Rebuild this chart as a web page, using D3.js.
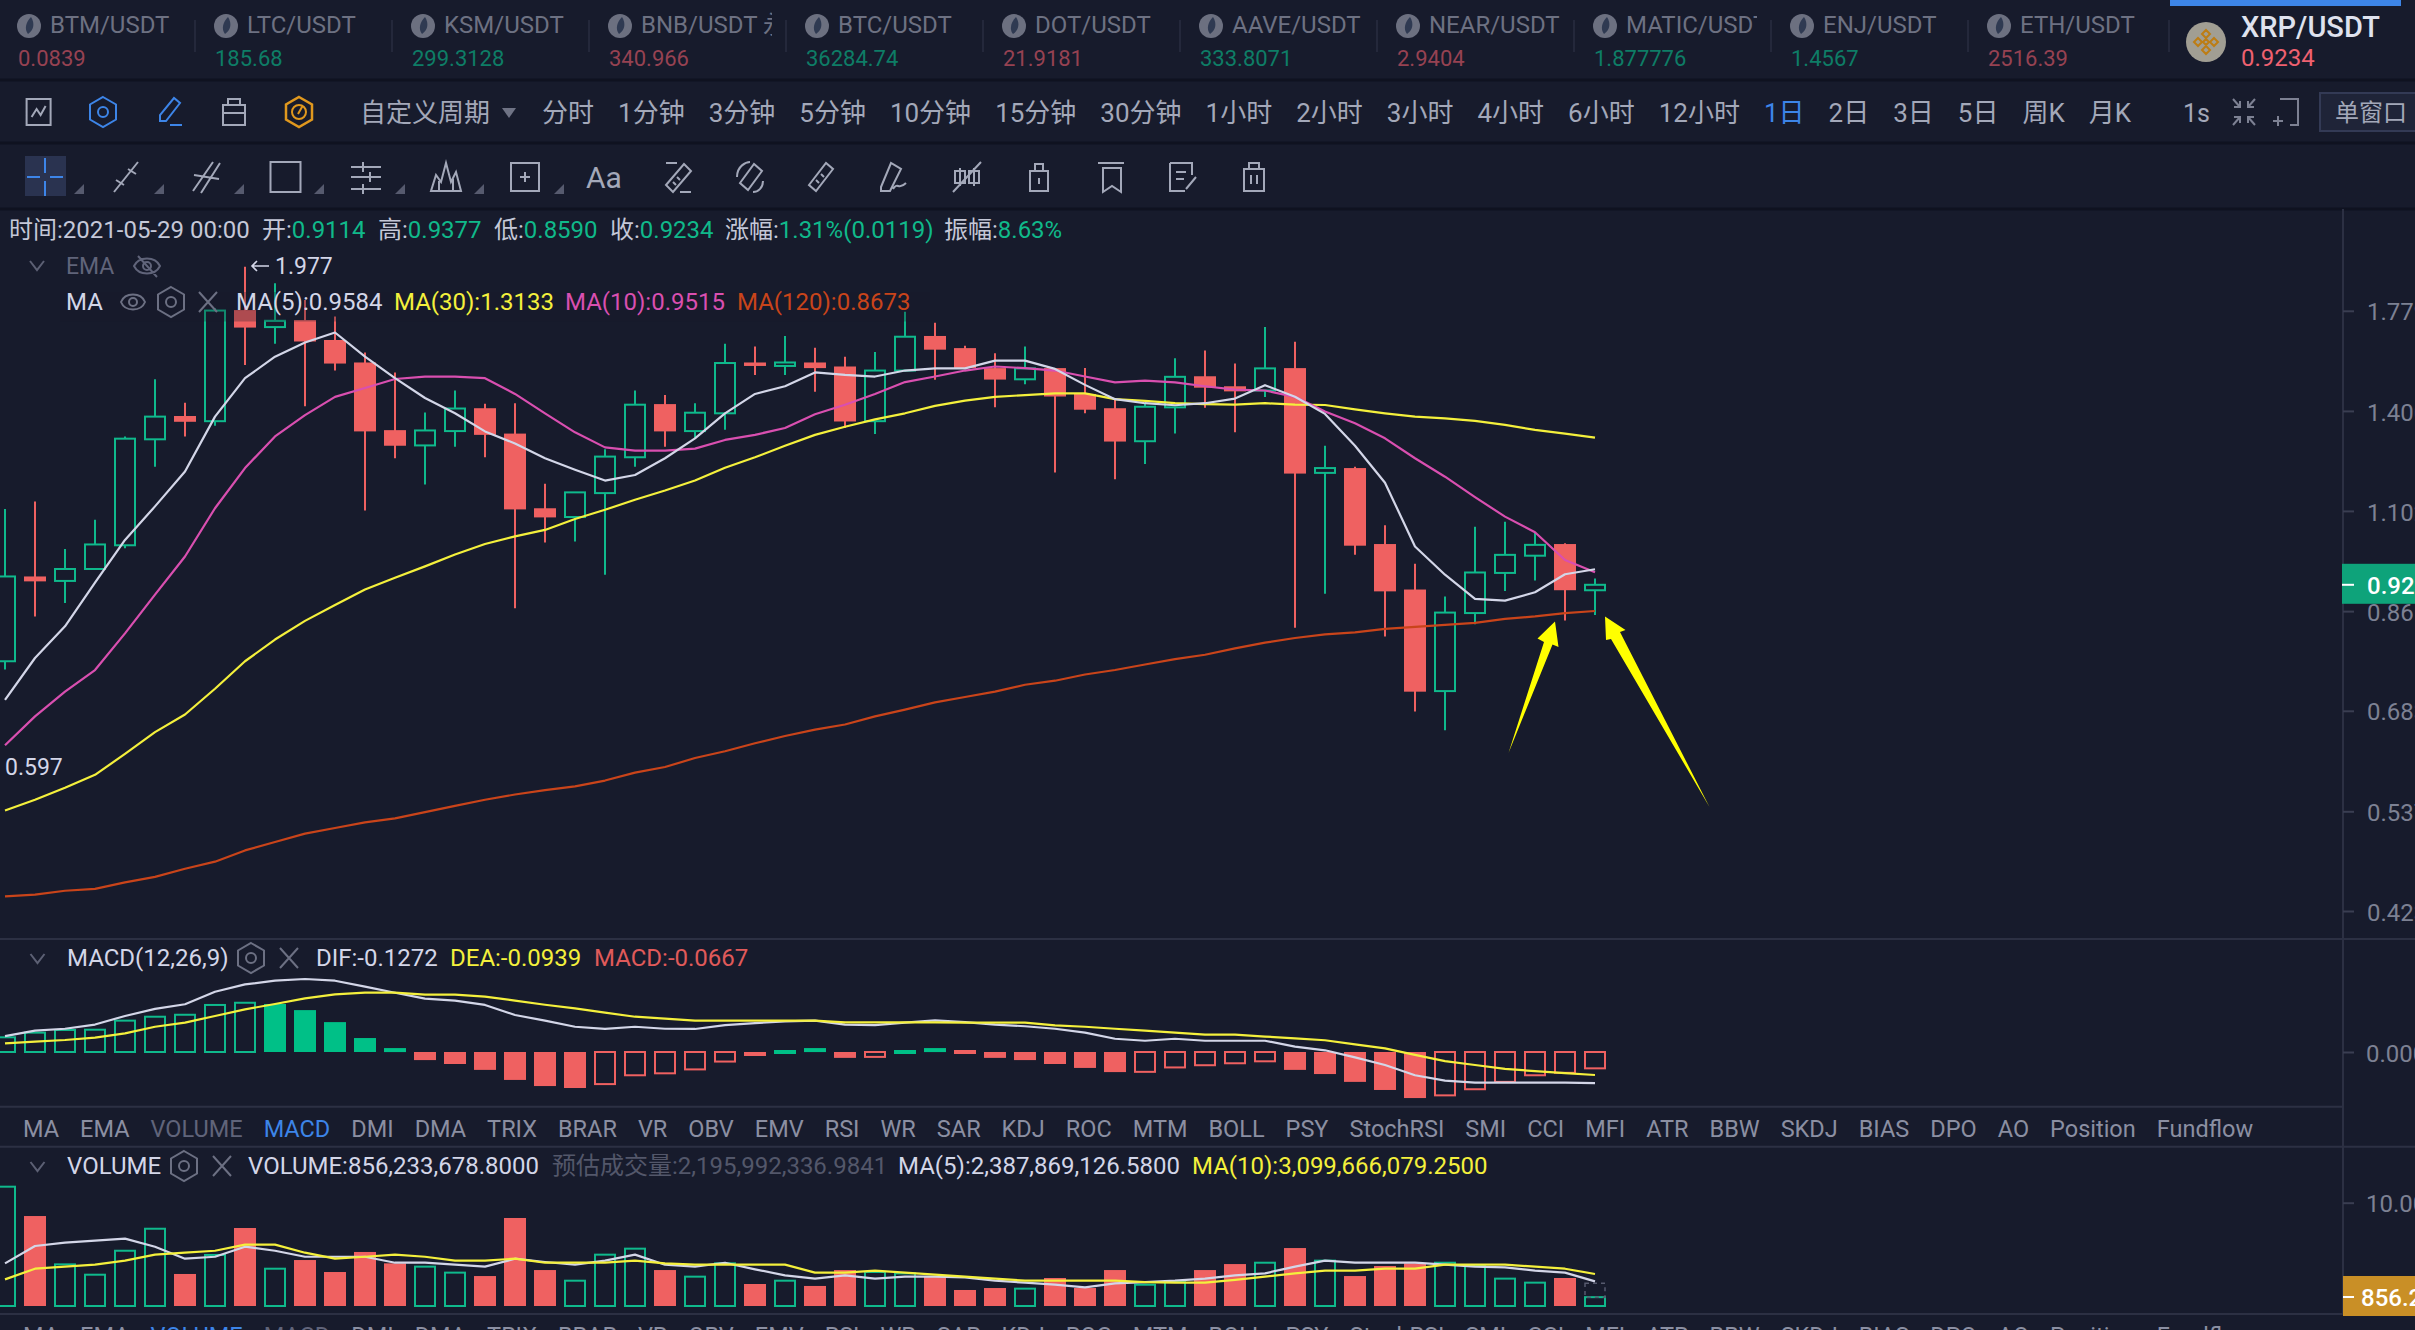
<!DOCTYPE html>
<html>
<head>
<meta charset="utf-8">
<title>XRP/USDT</title>
<script src="https://d3js.org/d3.v7.min.js"></script>
<style>
  html, body { margin: 0; background: #171b2c; overflow: hidden; }
  svg { display: block; }
  text { font-family: Roboto, "Noto Sans CJK SC", sans-serif; }
</style>
</head>
<body>
<svg id="chart" width="2415" height="1330"></svg>
<script>
// ---- data ----
const tickerNames = ["BTM/USDT","LTC/USDT","KSM/USDT","BNB/USDT 永续","BTC/USDT","DOT/USDT","AAVE/USDT","NEAR/USDT","MATIC/USDT","ENJ/USDT","ETH/USDT"];
const tickerPrices = ["0.0839","185.68","299.3128","340.966","36284.74","21.9181","333.8071","2.9404","1.877776","1.4567","2516.39"];
const tickerUp = [false,true,true,false,true,false,true,false,true,true,false];

const periods = ["分时","1分钟","3分钟","5分钟","10分钟","15分钟","30分钟","1小时","2小时","3小时","4小时","6小时","12小时","1日","2日","3日","5日","周K","月K"];
const indicators = ["MA","EMA","VOLUME","MACD","DMI","DMA","TRIX","BRAR","VR","OBV","EMV","RSI","WR","SAR","KDJ","ROC","MTM","BOLL","PSY","StochRSI","SMI","CCI","MFI","ATR","BBW","SKDJ","BIAS","DPO","AO","Position","Fundflow"];

const openPx = [.769,.942,.932,.959,1.015,1.308,1.383,1.366,1.782,1.711,
  1.740,1.659,1.572,1.337,1.289,1.334,1.409,1.326,1.109,1.086,
  1.150,1.253,1.423,1.334,1.392,1.572,1.559,1.572,1.557,1.366,
  1.542,1.675,1.627,1.551,1.510,1.551,1.458,1.409,1.302,1.412,
  1.521,1.485,1.470,1.551,1.207,1.221,1.018,.913,.716,.863,
  .950,.990,1.018,.9114];
const highPx = [1.107,1.127,1.006,1.079,1.317,1.510,1.428,1.790,1.977,1.900,
  1.826,1.755,1.610,1.535,1.395,1.470,1.424,1.426,1.176,1.152,
  1.277,1.470,1.454,1.426,1.644,1.633,1.675,1.628,1.594,1.612,
  1.775,1.729,1.636,1.607,1.633,1.551,1.551,1.444,1.426,1.588,
  1.618,1.568,1.711,1.652,1.288,1.225,1.065,.971,.898,1.061,
  1.074,1.047,1.020,.9377];
const lowPx = [.754,.856,.884,.957,1.008,1.225,1.317,1.351,1.563,1.644,
  1.416,1.542,1.103,1.250,1.174,1.285,1.253,.873,1.022,1.024,
  .946,1.225,1.285,1.311,1.338,1.526,1.526,1.466,1.344,1.325,
  1.539,1.508,1.548,1.412,1.492,1.208,1.392,1.189,1.233,1.326,
  1.411,1.330,1.447,.833,.904,.992,.816,.682,.652,.840,
  .910,.933,.848,.8590];
const closePx = [.942,.931,.959,1.017,1.310,1.381,1.364,1.780,1.709,1.737,
  1.653,1.568,1.333,1.288,1.336,1.408,1.322,1.106,1.085,1.152,
  1.255,1.421,1.333,1.394,1.570,1.559,1.572,1.551,1.365,1.542,
  1.672,1.621,1.551,1.509,1.550,1.449,1.404,1.301,1.414,1.519,
  1.480,1.467,1.550,1.205,1.221,1.014,.909,.715,.864,.951,
  .992,1.016,.9115,.9234];

const ma5 = [.701,.775,.836,.928,1.028,1.114,1.211,1.381,1.514,1.594,
  1.649,1.689,1.594,1.514,1.444,1.392,1.333,1.295,1.250,1.216,
  1.185,1.201,1.250,1.311,1.392,1.458,1.485,1.535,1.526,1.520,
  1.542,1.550,1.550,1.579,1.579,1.548,1.490,1.440,1.426,1.419,
  1.426,1.442,1.489,1.448,1.390,1.288,1.179,1.012,.946,.893,
  .889,.907,.947,.9584];
const ma10 = [.629,.674,.715,.753,.822,.902,.988,1.109,1.221,1.317,
  1.386,1.448,1.479,1.511,1.520,1.520,1.514,1.458,1.392,1.330,
  1.283,1.273,1.273,1.279,1.306,1.322,1.344,1.389,1.421,1.458,
  1.500,1.520,1.542,1.557,1.551,1.542,1.520,1.499,1.505,1.499,
  1.485,1.473,1.470,1.448,1.398,1.359,1.311,1.250,1.196,1.139,
  1.087,1.047,.980,.9515];
const ma30 = [.538,.552,.568,.586,.616,.649,.677,.720,.769,.810,
  .847,.880,.913,.939,.965,.993,1.018,1.037,1.053,1.081,
  1.105,1.132,1.157,1.185,1.222,1.253,1.288,1.322,1.348,1.372,
  1.392,1.417,1.435,1.448,1.454,1.460,1.460,1.440,1.434,1.426,
  1.423,1.421,1.426,1.421,1.420,1.405,1.392,1.381,1.375,1.367,
  1.354,1.338,1.326,1.3133];
const ma120 = [.438,.440,.444,.446,.453,.459,.468,.476,.489,.499,
  .509,.516,.523,.528,.536,.544,.552,.559,.565,.570,
  .578,.589,.597,.610,.620,.632,.643,.653,.661,.674,
  .685,.697,.706,.715,.727,.734,.745,.753,.763,.773,
  .781,.793,.804,.813,.820,.824,.831,.835,.839,.843,
  .851,.856,.863,.8673];

const macd = [.060,.079,.090,.091,.128,.144,.152,.192,.201,.196,
  .171,.122,.057,.016,-.033,-.049,-.073,-.114,-.139,-.147,
  -.131,-.095,-.087,-.071,-.039,-.016,.004,.016,-.024,-.020,
  .004,.016,-.008,-.024,-.033,-.049,-.065,-.082,-.081,-.063,
  -.054,-.046,-.038,-.073,-.090,-.122,-.155,-.188,-.177,-.152,
  -.122,-.095,-.085,-.0667];
const dif = [.065,.087,.095,.112,.147,.176,.195,.246,.276,.291,
  .298,.291,.267,.242,.218,.210,.192,.151,.128,.103,
  .094,.103,.095,.094,.110,.118,.125,.128,.112,.110,
  .120,.129,.122,.112,.105,.095,.079,.054,.046,.054,
  .046,.046,.046,.022,.007,-.022,-.053,-.095,-.117,-.125,
  -.125,-.125,-.125,-.1272];
const dea = [.035,.042,.049,.059,.076,.103,.120,.147,.174,.196,
  .219,.235,.242,.242,.234,.234,.226,.210,.193,.178,
  .161,.144,.136,.128,.128,.128,.128,.128,.121,.121,
  .121,.121,.120,.120,.120,.109,.103,.095,.087,.079,
  .071,.071,.063,.056,.048,.031,.015,-.012,-.037,-.053,
  -.069,-.078,-.086,-.0939];

// volume in billions
const volume = [11.55,8.71,4.03,3.03,5.35,7.48,3.10,4.94,7.55,3.61,
  4.45,3.29,5.23,4.13,3.81,3.23,2.90,8.52,3.48,2.45,
  4.97,5.55,3.48,2.84,4.13,2.13,2.45,1.94,3.48,3.29,
  3.16,2.90,1.55,1.74,1.68,2.71,1.74,3.48,2.06,2.32,
  3.48,4.06,4.19,5.61,4.39,2.90,3.87,4.13,4.19,3.94,
  2.65,2.26,2.71,.856];
const volMa5 = [4.13,5.81,6.13,6.32,6.52,5.74,4.58,4.77,5.74,5.35,
  4.77,4.77,4.77,4.19,4.19,4.00,3.81,4.58,4.26,4.00,
  4.39,4.97,4.00,3.81,4.19,3.55,2.97,2.65,2.97,2.65,
  2.84,2.84,2.77,2.45,2.26,2.06,1.81,2.19,2.32,2.45,
  2.65,2.97,3.16,3.81,4.39,4.19,4.19,4.19,4.00,3.81,
  3.74,3.42,3.23,2.388];
const volMa10 = [2.58,3.61,3.81,4.00,4.39,4.97,5.16,5.35,5.94,5.94,
  5.16,4.58,4.77,4.97,4.77,4.39,4.39,4.58,4.19,4.19,
  4.19,4.39,4.13,4.00,4.00,4.00,4.00,3.23,3.23,3.42,
  3.23,3.03,2.84,2.65,2.45,2.45,2.45,2.45,2.32,2.26,
  2.26,2.52,2.84,3.16,3.42,3.42,3.61,3.61,4.00,4.00,
  4.00,3.81,3.61,3.10];
const estimatedVolume = 2.196;

const priceTicks = [1.779,1.400,1.102,.867,.683,.537,.423];
const priceTickLabels = ["1.779","1.400","1.102","0.86","0.683","0.537","0.423"];

// ---- colours ----
const bg = "#171b2c", upColor = "#0fb98c", downColor = "#ef6161";
const ruleColor = "#2c3043", labelColor = "#a3a8b9", dimColor = "#60647a", axisText = "#7d8193";
const white = "#d3d6e8", yellow = "#f4f03c", magenta = "#d94fb0", orange = "#c9441a", blue = "#3d85e8";

const svg = d3.select("#chart");
const width = 2415, axisX = 2343;

function label(g, x, y, str, fill, size, extra) {
  const t = g.append("text").attr("x", x).attr("y", y).attr("fill", fill).attr("font-size", size).text(str);
  if (extra) t.attr("font-weight", extra);
  return t;
}

// text made of differently coloured runs
function rich(g, x, y, size, parts) {
  const t = g.append("text").attr("x", x).attr("y", y).attr("font-size", size);
  parts.forEach(p => t.append("tspan").attr("fill", p[1]).text(p[0]));
  return t;
}

// row of labels, each starting a fixed gap after the previous one
function flow(g, items, startX, y, gap, size, colorOf) {
  let x = startX;
  items.forEach(d => {
    const t = label(g, x, y, d, colorOf(d), size);
    x += t.node().getComputedTextLength() + gap;
  });
}

function icon(g, x, y, d, color, w) {
  g.append("path").attr("transform", `translate(${x},${y})`).attr("d", d)
    .attr("fill", "none").attr("stroke", color).attr("stroke-width", w || 2);
}

const hexPath = "M0,-15L13,-7.5V7.5L0,15L-13,7.5V-7.5Z";
const ringPath = "M5,0a5,5 0 1,0 -10,0a5,5 0 1,0 10,0Z";
const crossPath = "M-9,-10L9,10M9,-10L-9,10";
const chevron = "M-7,-4L0,5L7,-4";

// ---- ticker strip ----
const strip = svg.append("g");
svg.append("defs").selectAll("clipPath").data(tickerNames).enter().append("clipPath")
  .attr("id", (d, i) => "tick" + i)
  .append("rect").attr("x", (d, i) => 18 + 197 * i - 2).attr("y", 0).attr("width", 165).attr("height", 80);

tickerNames.forEach((name, i) => {
  const x = 18 + 197 * i;
  const g = strip.append("g").attr("clip-path", `url(#tick${i})`);
  g.append("circle").attr("cx", x + 11).attr("cy", 26).attr("r", 12).attr("fill", "#6c7080");
  g.append("path").attr("transform", `translate(${x + 11},26)`).attr("d", "M2,-9C6,-3 5,4 -1,8C-5,3 -3,-4 2,-9Z").attr("fill", "#2f3a52");
  label(g, x + 32, 33, name, "#6d7182", 24);
  label(g, x, 66, tickerPrices[i], tickerUp[i] ? "#0e7d66" : "#964252", 22);
  if (i) strip.append("line").attr("x1", x - 20).attr("x2", x - 20).attr("y1", 20).attr("y2", 52).attr("stroke", "#2a2e40").attr("stroke-width", 1.5);
});
strip.append("line").attr("x1", 2169).attr("x2", 2169).attr("y1", 20).attr("y2", 52).attr("stroke", "#2a2e40").attr("stroke-width", 1.5);
strip.append("rect").attr("x", 2170).attr("y", 0).attr("width", 231).attr("height", 6).attr("fill", blue);
strip.append("circle").attr("cx", 2206).attr("cy", 42).attr("r", 20).attr("fill", "#a19e93");
icon(strip, 2206, 42, "M0,-12L4,-8L0,-4L-4,-8ZM-8,-4L-4,0L-8,4L-12,0ZM8,-4L12,0L8,4L4,0ZM0,-3L3,0L0,3L-3,0ZM0,4L4,8L0,12L-4,8Z", "#bd7d14", 2);
label(strip, 2241, 37, "XRP/USDT", "#dfe2ee", 29, 500);
label(strip, 2241, 66, "0.9234", "#ef6170", 24);

// dark separators between the toolbars
[80, 143, 209].forEach(y => svg.append("line").attr("x1", 0).attr("x2", width).attr("y1", y).attr("y2", y).attr("stroke", "#0f1220").attr("stroke-width", 3));

// ---- period toolbar ----
const bar = svg.append("g");
icon(bar, 38.6, 112, "M-12,-13H12V13H-12ZM-7,5L-2,-3L2,3L7,-6", labelColor);
icon(bar, 103, 112, hexPath, blue);
icon(bar, 103, 112, ringPath, blue);
icon(bar, 170, 112, "M-10,9L-10,3L4,-14L10,-9L-4,9ZM0,13H12", blue);
icon(bar, 234, 112, "M-11,-7H11V13H-11ZM-6,-7V-13H6V-7M-11,1H11", labelColor);
icon(bar, 299, 112, hexPath, "#e0981e", 2.5);
icon(bar, 299, 112, "M7,0a7,7 0 1,0 -14,0a7,7 0 1,0 14,0ZM-1,2L3,-5", "#e0981e");
label(bar, 360, 122, "自定义周期", labelColor, 26);
bar.append("path").attr("d", "M502,108H516L509,118Z").attr("fill", "#6f7385");
flow(bar, periods, 542, 122, 24, 26, d => d === "1日" ? blue : labelColor);
label(bar, 2183, 122, "1s", labelColor, 25);
icon(bar, 2244, 112, "M-11,-13L-4,-5M-4,-11V-5H-10M11,-13L4,-5M4,-11V-5H10M-11,13L-4,5M-4,11V5H-10M11,13L4,5M4,11V5H10", "#7d8193");
icon(bar, 2288, 112, "M-8,-13H10V13H2M-10,4V14M-15,9H-5", "#7d8193");
bar.append("rect").attr("x", 2320).attr("y", 93).attr("width", 110).attr("height", 38).attr("fill", "#1f2438").attr("stroke", "#333a55").attr("stroke-width", 2);
label(bar, 2335, 121, "单窗口", labelColor, 24);

// ---- drawing tools ----
const tools = svg.append("g");
tools.append("rect").attr("x", 25).attr("y", 156).attr("width", 41).attr("height", 40).attr("fill", "#2a3350");
icon(tools, 45, 177, "M0,-19V-4M0,4V19M-18,0H-5M5,0H18", blue);
const toolIcons = [
  [126, "M-12,15L12,-15M-10,3L-2,8M2,-8L10,-3", labelColor],
  [206, "M-13,14L7,-15M-5,16L14,-14M-12,-2L13,2", labelColor],
  [285.5, "M-15,-15H15V15H-15Z", labelColor],
  [366, "M-15,-10H15M-15,0H15M-15,12H15M-3,-15V-5M4,-5V5M-3,7V17", labelColor],
  [446, "M-15,14H15L10,-5L5,5L0,-14L-5,5L-10,-2ZM-7,14V4M7,14V2", labelColor],
  [525, "M-14,-14H14V14H-14ZM-5,0H5M0,-5V5", labelColor],
  [678, "M-12,8L6,-13L13,-6L-5,15ZM-1,-14H-12M13,15H2M-5,5L-2,8M-1,0L2,3", labelColor],
  [750, "M-10,6L4,-13L12,-6L-2,13ZM-13,0C-13,-11 -4,-15 0,-15M13,4C13,11 8,15 3,15", labelColor],
  [821, "M-12,8L5,-14L12,-8L-5,14ZM-5,3L-2,6M0,-3L3,0", labelColor],
  [893, "M-12,10L-2,-14L8,-8L-3,14L-12,14ZM0,12C5,4 5,14 13,6", labelColor],
  [967, "M-7,-9V9M7,-9V9M-12,-6H-2V6H-12ZM2,-6H12V6H2ZM-14,15L14,-15", labelColor],
  [1039, "M-9,-6H9V14H-9ZM-4,-6V-13H4V-6M0,1V7", labelColor],
  [1111, "M-13,-14H13M-8,-9H10V15L1,9L-8,15Z", labelColor],
  [1183, "M-13,-14H9V-2M-13,-14V14H2M-7,-5H3M-7,2H1M3,12L13,0", labelColor],
  [1254, "M-10,-8H10V14H-10ZM-5,-8V-14H5V-8M-3,-2V7M3,-2V7", labelColor]
];
toolIcons.forEach(d => icon(tools, d[0], 177, d[1], d[2]));
[79, 159, 239, 319, 400, 479, 559].forEach(x => tools.append("path").attr("d", `M${x + 5},184V194H${x - 5}Z`).attr("fill", "#565a6e"));
label(tools, 586, 188, "Aa", labelColor, 30);

// ---- scales ----
const x = d3.scaleLinear().domain([0, 53]).range([5, 1595]);
const y = d3.scaleLog().domain([.423, 1.779]).range([911, 310.8]);
const macdY = d3.scaleLinear().domain([-.2, .3]).range([1101, 978.5]);
const volY = d3.scaleLinear().domain([0, 10]).range([1306, 1202.7]);
const lineOf = (scale, values) => d3.line().x((d, i) => x(i)).y(d => scale(d))(values);

function drawLine(g, scale, values, color) {
  g.append("path").attr("d", lineOf(scale, values)).attr("fill", "none").attr("stroke", color)
    .attr("stroke-width", 2.2).attr("stroke-linejoin", "round");
}

// ---- candles ----
const main = svg.append("g");
const idx = d3.range(openPx.length);
const up = i => closePx[i] >= openPx[i];

main.selectAll("line.wick").data(idx).enter().append("line").attr("class", "wick")
  .attr("x1", i => x(i)).attr("x2", i => x(i))
  .attr("y1", i => y(highPx[i])).attr("y2", i => y(lowPx[i]))
  .attr("stroke", i => up(i) ? upColor : downColor).attr("stroke-width", 2);

// hollow up bodies have to mask the wick behind them
main.selectAll("rect.body").data(idx).enter().append("rect").attr("class", "body")
  .attr("x", i => x(i) - (up(i) ? 10 : 11))
  .attr("width", i => up(i) ? 20 : 22)
  .attr("y", i => y(Math.max(openPx[i], closePx[i])))
  .attr("height", i => Math.max(3, Math.abs(y(openPx[i]) - y(closePx[i]))))
  .attr("fill", i => up(i) ? bg : downColor)
  .attr("stroke", i => up(i) ? upColor : "none")
  .attr("stroke-width", 2);

drawLine(main, y, ma120, orange);
drawLine(main, y, ma30, yellow);
drawLine(main, y, ma10, magenta);
drawLine(main, y, ma5, white);

// arrows drawn by hand on the screenshot, so plain page coordinates
svg.append("path").attr("fill", "#ffff00")
  .attr("d", "M1508.5,753L1544,642L1537.5,638.5L1555,621.5L1558.5,647L1552.5,644.5Z");
svg.append("path").attr("fill", "#ffff00")
  .attr("d", "M1709.5,807L1611,639L1606,640L1605,616.5L1625.5,630L1620,632Z");

// the legend row has a translucent backing that dulls what sits under it
svg.append("rect").attr("x", 60).attr("y", 292).attr("width", 870).attr("height", 29.5).attr("fill", bg).attr("opacity", .3);

// ---- main legend ----
const info = svg.append("g");
const up2 = "#10b98a", txt = "#c5c8d8";
rich(info, 9, 238, 24, [["时间:2021-05-29 00:00", txt]]);
rich(info, 262, 238, 24, [["开:", txt], ["0.9114", up2]]);
rich(info, 378, 238, 24, [["高:", txt], ["0.9377", up2]]);
rich(info, 494, 238, 24, [["低:", txt], ["0.8590", up2]]);
rich(info, 610, 238, 24, [["收:", txt], ["0.9234", up2]]);
rich(info, 725, 238, 24, [["涨幅:", txt], ["1.31%(0.0119)", up2]]);
rich(info, 944, 238, 24, [["振幅:", txt], ["8.63%", up2]]);

icon(info, 37, 265, chevron, "#5c6074");
label(info, 66, 274, "EMA", dimColor, 23);
icon(info, 147, 266, "M-13,0C-8,-10 8,-10 13,0C8,10 -8,10 -13,0ZM-9,-10L10,11M4,0a4,4 0 1,0 -8,0a4,4 0 1,0 8,0Z", dimColor);
label(info, 275, 274, "1.977", white, 23);
icon(info, 259, 266, "M10,0H-7M-2,-5L-7,0L-2,5", white, 1.6);
label(info, 5, 775, "0.597", white, 23);

label(info, 66, 310, "MA", white, 24);
icon(info, 133, 302, "M12,0C8,-10 -8,-10 -12,0C-8,10 8,10 12,0ZM4,0a4,4 0 1,0 -8,0a4,4 0 1,0 8,0Z", "#6c7083");
icon(info, 171, 302, hexPath, "#6c7083");
icon(info, 171, 302, ringPath, "#6c7083");
icon(info, 208, 302, crossPath, "#6c7083");
label(info, 236, 310, "MA(5):0.9584", white, 24);
label(info, 394, 310, "MA(30):1.3133", yellow, 24);
label(info, 565, 310, "MA(10):0.9515", magenta, 24);
label(info, 737, 310, "MA(120):0.8673", orange, 24);

// ---- MACD pane ----
const macdPane = svg.append("g");
const zero = macdY(0);
// rising bars are outlined, except the tiny ones that are only a dash
const macdHollow = i => (i === 0 || macd[i] >= macd[i - 1]) && Math.abs(macd[i]) >= .018;
macdPane.selectAll("rect").data(idx).enter().append("rect")
  .attr("x", i => x(i) - (macdHollow(i) ? 10 : 11))
  .attr("width", i => macdHollow(i) ? 20 : 22)
  .attr("y", i => Math.abs(macd[i]) < .01 ? zero - 2 : Math.min(zero, macdY(macd[i])))
  .attr("height", i => Math.max(4, Math.abs(macdY(macd[i]) - zero)))
  .attr("fill", i => macdHollow(i) ? "none" : (macd[i] >= 0 ? "#00c087" : downColor))
  .attr("stroke", i => macdHollow(i) ? (macd[i] >= 0 ? upColor : downColor) : "none")
  .attr("stroke-width", 2);
drawLine(macdPane, macdY, dif, white);
drawLine(macdPane, macdY, dea, yellow);

icon(macdPane, 37.5, 958, chevron, "#5c6074");
label(macdPane, 67, 966, "MACD(12,26,9)", white, 24);
icon(macdPane, 251, 958, hexPath, "#6c7083");
icon(macdPane, 251, 958, ringPath, "#6c7083");
icon(macdPane, 289, 958, crossPath, "#6c7083");
label(macdPane, 316, 966, "DIF:-0.1272", white, 24);
label(macdPane, 450, 966, "DEA:-0.0939", yellow, 24);
label(macdPane, 594, 966, "MACD:-0.0667", "#e05a5a", 24);

// ---- volume pane ----
const volPane = svg.append("g");
volPane.selectAll("rect").data(idx).enter().append("rect")
  .attr("x", i => x(i) - (up(i) ? 10 : 11))
  .attr("width", i => up(i) ? 20 : 22)
  .attr("y", i => volY(volume[i]))
  .attr("height", i => volY(0) - volY(volume[i]))
  .attr("fill", i => up(i) ? "none" : downColor)
  .attr("stroke", i => up(i) ? upColor : "none")
  .attr("stroke-width", 2);
volPane.append("rect").attr("x", x(53) - 10).attr("width", 20)
  .attr("y", volY(estimatedVolume)).attr("height", volY(volume[53]) - volY(estimatedVolume))
  .attr("fill", "none").attr("stroke", "#565a6e").attr("stroke-width", 1.5).attr("stroke-dasharray", "4 4");
drawLine(volPane, volY, volMa5, white);
drawLine(volPane, volY, volMa10, yellow);

icon(volPane, 37.5, 1166, chevron, "#5c6074");
label(volPane, 67, 1174, "VOLUME", white, 24);
icon(volPane, 184, 1166, hexPath, "#6c7083");
icon(volPane, 184, 1166, ringPath, "#6c7083");
icon(volPane, 222, 1166, crossPath, "#6c7083");
label(volPane, 248, 1174, "VOLUME:856,233,678.8000", white, 24);
label(volPane, 552, 1174, "预估成交量:2,195,992,336.9841", "#53576a", 24);
label(volPane, 898, 1174, "MA(5):2,387,869,126.5800", white, 24);
label(volPane, 1192, 1174, "MA(10):3,099,666,079.2500", yellow, 24);

// ---- indicator tabs and pane rules ----
const tabs = svg.append("g");
flow(tabs, indicators, 23, 1137, 21, 23.5, d => d === "MACD" ? blue : d === "VOLUME" ? dimColor : "#8b8fa2");
flow(tabs, indicators, 23, 1344, 21, 23.5, d => d === "VOLUME" ? blue : d === "MACD" ? dimColor : "#8b8fa2");

[[939, width], [1106.7, axisX], [1146.7, width], [1314, width]].forEach(d =>
  svg.append("line").attr("x1", 0).attr("x2", d[1]).attr("y1", d[0]).attr("y2", d[0]).attr("stroke", ruleColor).attr("stroke-width", 2));
svg.append("line").attr("x1", axisX).attr("x2", axisX).attr("y1", 209).attr("y2", 1315).attr("stroke", ruleColor).attr("stroke-width", 2);

// ---- right axes ----
function styleAxis(g) {
  g.select(".domain").remove();
  g.selectAll(".tick line").attr("stroke", "#3a3e52").attr("stroke-width", 2);
  g.selectAll(".tick text").attr("fill", axisText).attr("font-size", 24).attr("dy", ".38em");
  g.attr("font-family", null).attr("font-size", null);
}

svg.append("g").attr("transform", `translate(${axisX},0)`)
  .call(d3.axisRight(y).tickValues(priceTicks).tickSize(11).tickPadding(13).tickFormat((d, i) => priceTickLabels[i]))
  .call(styleAxis);
svg.append("g").attr("transform", `translate(${axisX},0)`)
  .call(d3.axisRight(macdY).tickValues([0]).tickSize(11).tickPadding(12).tickFormat(d3.format(".3f")))
  .call(styleAxis);
svg.append("g").attr("transform", `translate(${axisX},0)`)
  .call(d3.axisRight(volY).tickValues([10]).tickSize(11).tickPadding(12).tickFormat(d3.format(".2f")))
  .call(styleAxis);

// last price and last volume tags
const lastPrice = y(closePx[53]);
svg.append("rect").attr("x", 2342).attr("y", lastPrice - 21).attr("width", 73).attr("height", 40).attr("fill", "#0ea37a");
svg.append("line").attr("x1", 2342).attr("x2", 2354).attr("y1", lastPrice).attr("y2", lastPrice).attr("stroke", "#fff").attr("stroke-width", 2);
label(svg, 2367, lastPrice + 9, "0.923", "#fff", 24, 500);

svg.append("rect").attr("x", 2343).attr("y", 1276).attr("width", 72).attr("height", 40).attr("fill", "#c98f26");
svg.append("line").attr("x1", 2343).attr("x2", 2354).attr("y1", 1297).attr("y2", 1297).attr("stroke", "#fff").attr("stroke-width", 2);
label(svg, 2361, 1306, "856.2", "#fff", 24, 500);
</script>
</body>
</html>
